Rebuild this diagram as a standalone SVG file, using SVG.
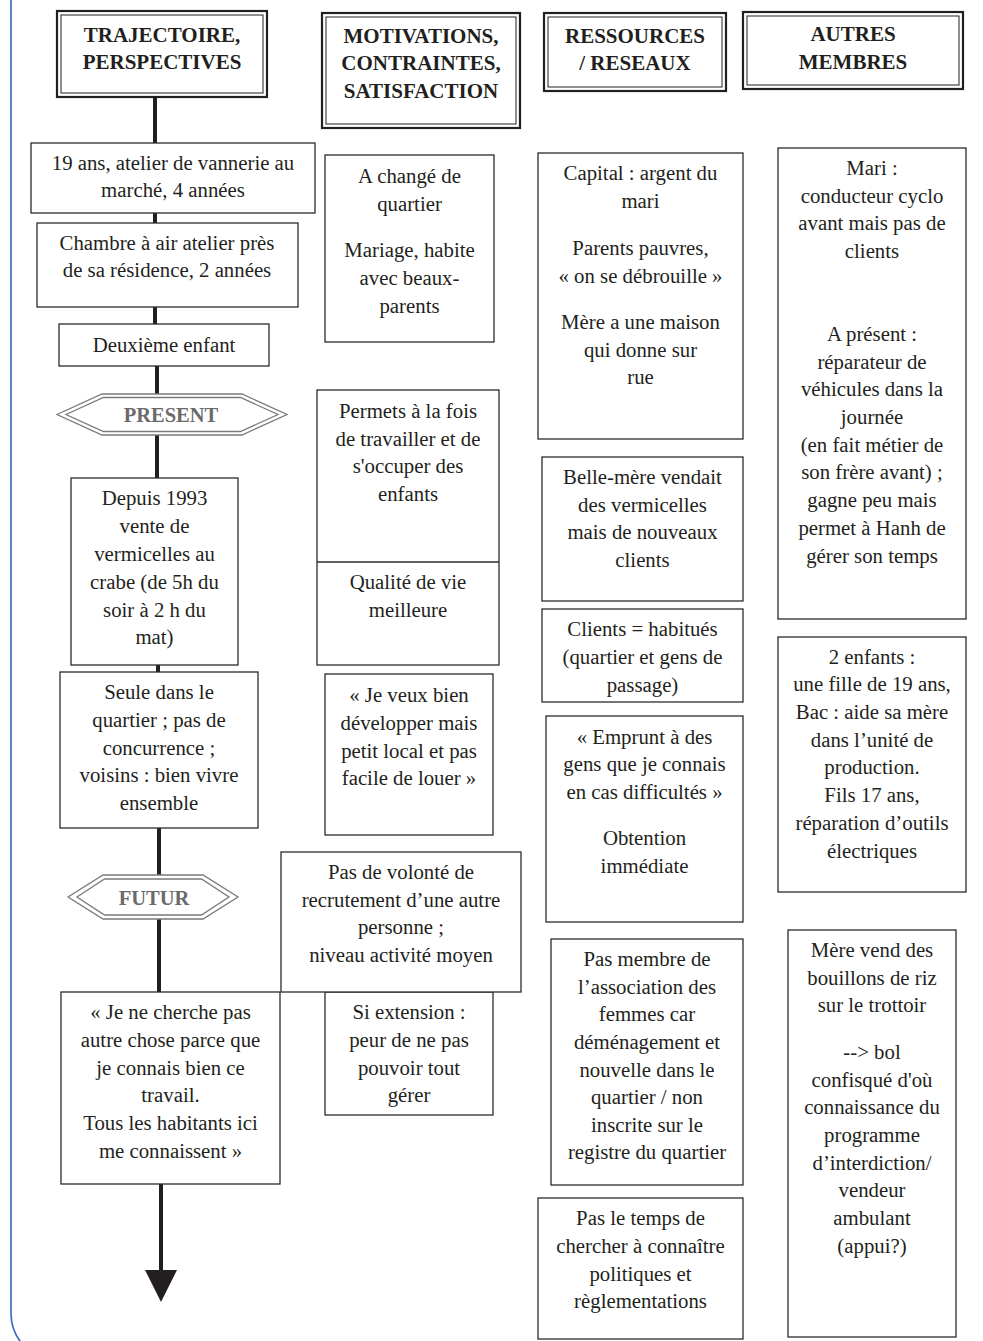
<svg xmlns="http://www.w3.org/2000/svg" width="983" height="1341" viewBox="0 0 983 1341">
<style>
.b{fill:#fff;stroke:#2b2b2b;stroke-width:1.3}
.ho{fill:#fff;stroke:#231f20;stroke-width:2.2}
.hi{fill:none;stroke:#231f20;stroke-width:1}
.hx{fill:#fff;stroke:#7a7a7a;stroke-width:1.3}
.hxi{fill:none;stroke:#7a7a7a;stroke-width:1.3}
text{font-family:"Liberation Serif","Times New Roman",serif;fill:#231f20;text-anchor:middle}
.t{font-size:20.8px}
.h{font-size:21px;font-weight:bold}
.hg{font-size:20.5px;font-weight:bold;fill:#6a6a6a}
.trunk{stroke:#231f20;stroke-width:4;fill:none}
</style>
<rect width="983" height="1341" fill="#fff"/>
<path d="M11,0 V1313 A48,48 0 0 0 59,1361" fill="none" stroke="#3467b5" stroke-width="1.6"/>
<g id="connectors">
<path class="trunk" d="M155,97 V324 M157,366 V478 M158,665 V672 M159,828 V992 M161,1184 V1272"/>
<polygon points="145,1270 177,1270 161,1302" fill="#231f20"/>
</g>
<g id="h1"><rect class="ho" x="57" y="11" width="210" height="86"/><rect class="hi" x="61" y="15" width="202" height="78"/>
<text class="h" x="162" y="42">TRAJECTOIRE,</text><text class="h" x="162" y="69">PERSPECTIVES</text></g>
<g id="h2"><rect class="ho" x="322" y="13" width="198" height="115"/><rect class="hi" x="326" y="17" width="190" height="107"/>
<text class="h" x="421" y="43">MOTIVATIONS,</text><text class="h" x="421" y="70">CONTRAINTES,</text><text class="h" x="421" y="98">SATISFACTION</text></g>
<g id="h3"><rect class="ho" x="544" y="13" width="182" height="78"/><rect class="hi" x="548" y="17" width="174" height="70"/>
<text class="h" x="635" y="43">RESSOURCES</text><text class="h" x="635" y="70">/ RESEAUX</text></g>
<g id="h4"><rect class="ho" x="743" y="12" width="220" height="77"/><rect class="hi" x="747" y="16" width="212" height="69"/>
<text class="h" x="853" y="41">AUTRES</text><text class="h" x="853" y="69">MEMBRES</text></g>

<g id="n1"><rect class="b" x="31" y="143" width="284" height="70"/>
<text class="t" x="173" y="170">19 ans, atelier de vannerie au</text><text class="t" x="173" y="197">marché, 4 années</text></g>
<g id="n2"><rect class="b" x="37" y="223" width="261" height="84"/>
<text class="t" x="167" y="250">Chambre à air atelier près</text><text class="t" x="167" y="277">de sa résidence, 2 années</text></g>
<g id="n3"><rect class="b" x="59" y="324" width="210" height="42"/>
<text class="t" x="164" y="352">Deuxième enfant</text></g>
<g id="present"><polygon class="hx" points="57,414.5 102,394 242,394 287,414.5 242,435 102,435"/>
<polygon class="hxi" points="66,414.5 103.5,397.5 240.5,397.5 278,414.5 240.5,431.5 103.5,431.5"/>
<text class="hg" x="171" y="422">PRESENT</text></g>
<g id="n4"><rect class="b" x="71" y="478" width="167" height="187"/>
<text class="t" x="154.5" y="505">Depuis 1993</text><text class="t" x="154.5" y="533">vente de</text><text class="t" x="154.5" y="561">vermicelles au</text><text class="t" x="154.5" y="589">crabe (de 5h du</text><text class="t" x="154.5" y="617">soir à 2 h du</text><text class="t" x="154.5" y="644">mat)</text></g>
<g id="n5"><rect class="b" x="60" y="672" width="198" height="156"/>
<text class="t" x="159" y="699">Seule dans le</text><text class="t" x="159" y="727">quartier ; pas de</text><text class="t" x="159" y="755">concurrence ;</text><text class="t" x="159" y="782">voisins : bien vivre</text><text class="t" x="159" y="810">ensemble</text></g>
<g id="futur"><polygon class="hx" points="68,897 103,875 203,875 238,897 203,919 103,919"/>
<polygon class="hxi" points="77,897 104.5,879 201.5,879 229,897 201.5,915 104.5,915"/>
<text class="hg" x="154" y="905">FUTUR</text></g>
<g id="n6"><rect class="b" x="61" y="992" width="219" height="192"/>
<text class="t" x="170.5" y="1019">« Je ne cherche pas</text><text class="t" x="170.5" y="1047">autre chose parce que</text><text class="t" x="170.5" y="1075">je connais bien ce</text><text class="t" x="170.5" y="1102">travail.</text><text class="t" x="170.5" y="1130">Tous les habitants ici</text><text class="t" x="170.5" y="1158">me connaissent »</text></g>

<g id="m1"><rect class="b" x="325" y="155" width="169" height="187"/>
<text class="t" x="409.5" y="183">A changé de</text><text class="t" x="409.5" y="211">quartier</text><text class="t" x="409.5" y="257">Mariage,  habite</text><text class="t" x="409.5" y="285">avec beaux-</text><text class="t" x="409.5" y="313">parents</text></g>
<g id="m2"><rect class="b" x="317" y="390" width="182" height="275"/><line x1="317" y1="562" x2="499" y2="562" stroke="#2b2b2b" stroke-width="1.3"/>
<text class="t" x="408" y="418">Permets à la fois</text><text class="t" x="408" y="446">de travailler et de</text><text class="t" x="408" y="473">s'occuper des</text><text class="t" x="408" y="501">enfants</text>
<text class="t" x="408" y="589">Qualité de vie</text><text class="t" x="408" y="617">meilleure</text></g>
<g id="m3"><rect class="b" x="325" y="674" width="168" height="161"/>
<text class="t" x="409" y="702">« Je veux bien</text><text class="t" x="409" y="730">développer mais</text><text class="t" x="409" y="758">petit local et pas</text><text class="t" x="409" y="785">facile de louer »</text></g>
<g id="m5"><rect class="b" x="325" y="992" width="168" height="123"/>
<text class="t" x="409" y="1019">Si extension :</text><text class="t" x="409" y="1047">peur de ne pas</text><text class="t" x="409" y="1075">pouvoir tout</text><text class="t" x="409" y="1102">gérer</text></g>
<g id="m4"><rect class="b" x="281" y="852" width="240" height="140"/>
<text class="t" x="401" y="879">Pas de volonté de</text><text class="t" x="401" y="907">recrutement d’une autre</text><text class="t" x="401" y="934">personne ;</text><text class="t" x="401" y="962">niveau activité moyen</text></g>

<g id="r1"><rect class="b" x="538" y="153" width="205" height="286"/>
<text class="t" x="640.5" y="180">Capital : argent du</text><text class="t" x="640.5" y="208">mari</text><text class="t" x="640.5" y="255">Parents pauvres,</text><text class="t" x="640.5" y="283">« on se débrouille »</text><text class="t" x="640.5" y="329">Mère a une maison</text><text class="t" x="640.5" y="357">qui donne sur</text><text class="t" x="640.5" y="384">rue</text></g>
<g id="r2"><rect class="b" x="542" y="457" width="201" height="144"/>
<text class="t" x="642.5" y="484">Belle-mère vendait</text><text class="t" x="642.5" y="512">des vermicelles</text><text class="t" x="642.5" y="539">mais de nouveaux</text><text class="t" x="642.5" y="567">clients</text></g>
<g id="r3"><rect class="b" x="542" y="609" width="201" height="93"/>
<text class="t" x="642.5" y="636">Clients = habitués</text><text class="t" x="642.5" y="664">(quartier et gens de</text><text class="t" x="642.5" y="692">passage)</text></g>
<g id="r4"><rect class="b" x="546" y="716" width="197" height="206"/>
<text class="t" x="644.5" y="744">« Emprunt à des</text><text class="t" x="644.5" y="771">gens que je connais</text><text class="t" x="644.5" y="799">en cas difficultés »</text><text class="t" x="644.5" y="845">Obtention</text><text class="t" x="644.5" y="873">immédiate</text></g>
<g id="r5"><rect class="b" x="551" y="939" width="192" height="246"/>
<text class="t" x="647" y="966">Pas membre de</text><text class="t" x="647" y="994">l’association des</text><text class="t" x="647" y="1021">femmes car</text><text class="t" x="647" y="1049">déménagement et</text><text class="t" x="647" y="1077">nouvelle dans le</text><text class="t" x="647" y="1104">quartier / non</text><text class="t" x="647" y="1132">inscrite sur le</text><text class="t" x="647" y="1159">registre du quartier</text></g>
<g id="r6"><rect class="b" x="538" y="1198" width="205" height="141"/>
<text class="t" x="640.5" y="1225">Pas le temps de</text><text class="t" x="640.5" y="1253">chercher à connaître</text><text class="t" x="640.5" y="1281">politiques et</text><text class="t" x="640.5" y="1308">règlementations</text></g>

<g id="a1"><rect class="b" x="778" y="148" width="188" height="471"/>
<text class="t" x="872" y="175">Mari :</text><text class="t" x="872" y="203">conducteur cyclo</text><text class="t" x="872" y="230">avant mais pas de</text><text class="t" x="872" y="258">clients</text>
<text class="t" x="872" y="341">A présent :</text><text class="t" x="872" y="369">réparateur de</text><text class="t" x="872" y="396">véhicules dans la</text><text class="t" x="872" y="424">journée</text><text class="t" x="872" y="452">(en fait métier de</text><text class="t" x="872" y="479">son frère avant) ;</text><text class="t" x="872" y="507">gagne peu mais</text><text class="t" x="872" y="535">permet à Hanh de</text><text class="t" x="872" y="563">gérer son temps</text></g>
<g id="a2"><rect class="b" x="778" y="637" width="188" height="255"/>
<text class="t" x="872" y="664">2 enfants :</text><text class="t" x="872" y="691">une fille de 19 ans,</text><text class="t" x="872" y="719">Bac : aide sa mère</text><text class="t" x="872" y="747">dans l’unité de</text><text class="t" x="872" y="774">production.</text><text class="t" x="872" y="802">Fils 17 ans,</text><text class="t" x="872" y="830">réparation d’outils</text><text class="t" x="872" y="858">électriques</text></g>
<g id="a3"><rect class="b" x="788" y="930" width="168" height="407"/>
<text class="t" x="872" y="957">Mère vend des</text><text class="t" x="872" y="985">bouillons de riz</text><text class="t" x="872" y="1012">sur le trottoir</text>
<text class="t" x="872" y="1059">--&gt; bol</text><text class="t" x="872" y="1087">confisqué d'où</text><text class="t" x="872" y="1114">connaissance du</text><text class="t" x="872" y="1142">programme</text><text class="t" x="872" y="1170">d’interdiction/</text><text class="t" x="872" y="1197">vendeur</text><text class="t" x="872" y="1225">ambulant</text><text class="t" x="872" y="1253">(appui?)</text></g>
</svg>
